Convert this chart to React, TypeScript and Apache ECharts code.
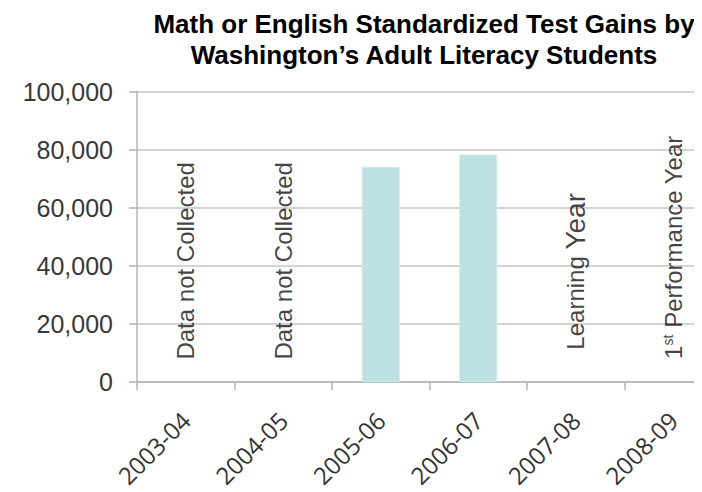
import React, { useEffect, useRef } from "react";
import * as echarts from "echarts";

const categories = ["2003-04", "2004-05", "2005-06", "2006-07", "2007-08", "2008-09"];
const gains: (number | null)[] = [null, null, 74100, 78300, null, null];
const yTicks = [0, 20000, 40000, 60000, 80000, 100000];
const noteCategories = ["2003-04", "2004-05", "2007-08", "2008-09"];
const noteTexts = ["Data not Collected", "Data not Collected", "{l|Learning} {y|Year}", "1{sup|st} Performance Year"];
const noteLevels = [41700, 41700, 38100, 46400];
const titleLines = ["Math or English Standardized Test Gains by", "Washington\u2019s Adult Literacy Students"];

const SANS = "'Liberation Sans', Arial, sans-serif";

export default function App() {
  const ref = useRef<HTMLDivElement>(null);
  useEffect(() => {
    if (!ref.current) return;
    const chart = echarts.init(ref.current, null, { renderer: "svg" });
    chart.setOption({
      animation: false,
      backgroundColor: "#ffffff",
      graphic: [
        {
          type: "text",
          x: 424,
          y: 8,
          style: {
            text: titleLines.join("\n"),
            align: "center",
            verticalAlign: "top",
            font: "bold 26px 'Liberation Sans', Arial, sans-serif",
            lineHeight: 31,
            fill: "#000000",
          },
        },
      ],
      grid: {
        left: 137,
        top: 91.5,
        height: 290.5,
        width: 585,
        containLabel: false,
        outerBoundsMode: "none",
      },
      xAxis: {
        type: "category",
        data: categories,
        axisLine: { show: true, lineStyle: { color: "#b5b5b5", width: 1.5 } },
        axisTick: { show: true, length: 8, lineStyle: { color: "#b5b5b5", width: 1.5 } },
        axisLabel: {
          rotate: 45,
          margin: 34,
          align: "right",
          verticalAlign: "middle",
          fontFamily: "'Open Sans', sans-serif",
          fontSize: 24,
          color: "#333333",
          interval: 0,
        },
      },
      yAxis: {
        type: "value",
        min: yTicks[0],
        max: yTicks[yTicks.length - 1],
        interval: yTicks[1] - yTicks[0],
        axisLine: { show: true, lineStyle: { color: "#b5b5b5", width: 1.5 } },
        axisTick: { show: true, length: 8, lineStyle: { color: "#b5b5b5", width: 1.5 } },
        splitLine: { show: true, lineStyle: { color: "#c4c4c4", width: 1.5 } },
        axisLabel: {
          margin: 24,
          fontFamily: SANS,
          fontSize: 25,
          color: "#383838",
          formatter: (v: number) => v.toLocaleString("en-US"),
        },
      },
      series: [
        {
          type: "bar",
          data: gains,
          barWidth: 38,
          itemStyle: { color: "#bce0e3", borderColor: "#cdeaec", borderWidth: 1 },
        },
        {
          type: "scatter",
          symbolSize: 0,
          silent: true,
          data: noteCategories.map((c, i) => ({ value: [c, noteLevels[i]], name: noteTexts[i] })),
          label: {
            show: true,
            position: "inside",
            rotate: 90,
            align: "center",
            verticalAlign: "middle",
            formatter: (p: any) => p.name,
            fontFamily: SANS,
            fontSize: 24,
            color: "#111111",
            rich: {
              l: { fontFamily: SANS, fontSize: 24, color: "#111111" },
              y: { fontFamily: SANS, fontSize: 28, color: "#111111" },
              sup: { fontFamily: SANS, fontSize: 14, color: "#111111", verticalAlign: "top" },
            },
          },
        },
      ],
    });
    return () => chart.dispose();
  }, []);
  return <div ref={ref} style={{ width: 702, height: 492, marginLeft: -8, marginTop: -8 }} />;
}
